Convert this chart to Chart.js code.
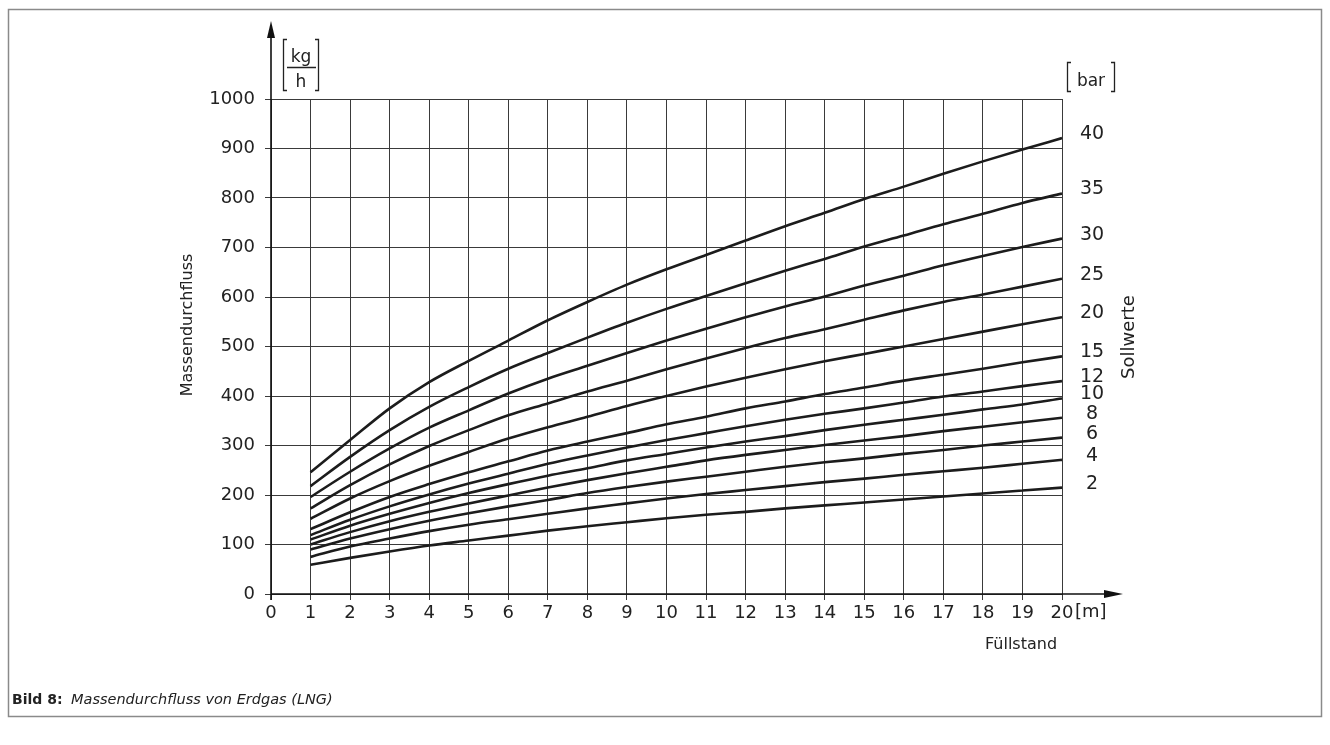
<!DOCTYPE html>
<html>
<head>
<meta charset="utf-8">
<title>Massendurchfluss von Erdgas (LNG)</title>
<script src="https://cdn.jsdelivr.net/npm/chart.js@4"></script>
<style>
  html, body { margin: 0; padding: 0; background: #fff; }
  canvas { display: block; }
</style>
</head>
<body>
<canvas id="chart" width="1330" height="745"></canvas>
<script>
// Füllstand in m (x axis)
const fuellstand = [1, 2, 3, 4, 5, 6, 7, 8, 9, 10, 11, 12, 13, 14, 15, 16, 17, 18, 19, 20];

// Sollwerte in bar, one curve each
const sollwerte = [40, 35, 30, 25, 20, 15, 12, 10, 8, 6, 4, 2];

// Massendurchfluss in kg/h per Sollwert
const bar40 = [246, 311, 375, 428, 471, 512, 553, 590, 625, 656, 685, 714, 743, 770, 798, 823, 849, 874, 898, 921];
const bar35 = [218, 277, 331, 378, 418, 455, 487, 518, 548, 576, 602, 628, 653, 677, 702, 724, 747, 768, 790, 809];
const bar30 = [196, 247, 294, 336, 371, 405, 435, 461, 487, 512, 536, 559, 581, 601, 623, 643, 664, 683, 701, 718];
const bar25 = [173, 220, 262, 299, 331, 361, 385, 409, 431, 454, 476, 497, 517, 535, 554, 573, 590, 605, 621, 637];
const bar20 = [152, 193, 228, 259, 287, 314, 337, 358, 380, 400, 419, 437, 454, 470, 485, 500, 515, 530, 545, 559];
const bar15 = [131, 165, 196, 222, 246, 268, 290, 308, 325, 343, 358, 375, 389, 404, 417, 431, 443, 455, 468, 480];
const bar12 = [119, 150, 177, 201, 223, 243, 263, 280, 296, 311, 325, 339, 352, 364, 375, 387, 399, 409, 420, 430];
const bar10 = [110, 138, 162, 184, 204, 222, 239, 254, 270, 283, 296, 308, 319, 331, 342, 352, 362, 373, 383, 395];
const bar8  = [100, 125, 147, 166, 183, 199, 215, 230, 244, 257, 270, 281, 291, 301, 310, 319, 329, 338, 347, 356];
const bar6  = [90, 112, 131, 148, 163, 177, 190, 204, 216, 227, 237, 247, 257, 266, 274, 283, 291, 300, 308, 316];
const bar4  = [75, 96, 112, 127, 140, 151, 162, 173, 183, 193, 202, 210, 218, 226, 233, 241, 248, 255, 263, 271];
const bar2  = [59, 73, 86, 98, 108, 118, 128, 137, 145, 153, 160, 166, 173, 179, 185, 191, 197, 203, 209, 215];

const kurven = [bar40, bar35, bar30, bar25, bar20, bar15, bar12, bar10, bar8, bar6, bar4, bar2];

const FONT = '"DejaVu Sans", "Liberation Sans", sans-serif';
const INK = '#1c1c1c';
const TEXT = '#222';

const datasets = sollwerte.map((p, i) => ({
  label: p + ' bar',
  data: fuellstand.map((x, j) => ({ x: x, y: kurven[i][j] })),
  borderColor: INK,
  borderWidth: 2.6,
  pointRadius: 0,
  fill: false,
  cubicInterpolationMode: 'monotone'
}));

// Axis arrows, unit brackets, curve labels, captions and frame
const decorations = {
  id: 'decorations',
  afterDraw(chart) {
    const ctx = chart.ctx;
    const xs = chart.scales.x, ys = chart.scales.y;
    const x0 = xs.getPixelForValue(0);
    const y0 = ys.getPixelForValue(0);
    ctx.save();

    // frame
    ctx.strokeStyle = '#8a8a8a';
    ctx.lineWidth = 1.5;
    ctx.strokeRect(8.5, 9.5, 1313, 707);

    // axes with arrowheads
    ctx.strokeStyle = '#111';
    ctx.fillStyle = '#111';
    ctx.lineWidth = 1.6;
    ctx.beginPath();
    ctx.moveTo(x0, y0 + 6);
    ctx.lineTo(x0, 34);
    ctx.moveTo(x0, y0);
    ctx.lineTo(1108, y0);
    ctx.stroke();
    ctx.beginPath();
    ctx.moveTo(x0, 21);
    ctx.lineTo(x0 - 4, 38);
    ctx.lineTo(x0 + 4, 38);
    ctx.closePath();
    ctx.fill();
    ctx.beginPath();
    ctx.moveTo(1123, y0);
    ctx.lineTo(1104, y0 - 4);
    ctx.lineTo(1104, y0 + 4);
    ctx.closePath();
    ctx.fill();

    // unit [kg/h]
    ctx.lineWidth = 1.3;
    ctx.strokeStyle = '#222';
    ctx.beginPath();
    ctx.moveTo(287, 39.5); ctx.lineTo(283.5, 39.5); ctx.lineTo(283.5, 90.5); ctx.lineTo(287, 90.5);
    ctx.moveTo(315, 39.5); ctx.lineTo(318.5, 39.5); ctx.lineTo(318.5, 90.5); ctx.lineTo(315, 90.5);
    ctx.moveTo(287, 67.5); ctx.lineTo(316, 67.5);
    ctx.stroke();
    ctx.fillStyle = TEXT;
    ctx.font = '17px ' + FONT;
    ctx.textAlign = 'center';
    ctx.textBaseline = 'alphabetic';
    ctx.fillText('kg', 301, 62);
    ctx.fillText('h', 301, 87);

    // unit [bar]
    ctx.beginPath();
    ctx.moveTo(1071, 62.5); ctx.lineTo(1067.5, 62.5); ctx.lineTo(1067.5, 91.5); ctx.lineTo(1071, 91.5);
    ctx.moveTo(1111, 62.5); ctx.lineTo(1114.5, 62.5); ctx.lineTo(1114.5, 91.5); ctx.lineTo(1111, 91.5);
    ctx.stroke();
    ctx.fillText('bar', 1091, 86);

    // Sollwert labels at the curve ends
    ctx.font = '19px ' + FONT;
    ctx.textBaseline = 'middle';
    sollwerte.forEach((p, i) => {
      const last = kurven[i][kurven[i].length - 1];
      ctx.fillText(String(p), 1092, ys.getPixelForValue(last) - 4);
    });

    // x unit and title
    ctx.font = '18px ' + FONT;
    ctx.textAlign = 'left';
    ctx.fillText('[m]', 1075, 612);
    ctx.font = '16px ' + FONT;
    ctx.textAlign = 'center';
    ctx.fillText('Füllstand', 1021, 645);

    // rotated titles
    ctx.save();
    ctx.translate(188, 325);
    ctx.rotate(-Math.PI / 2);
    ctx.fillText('Massendurchfluss', 0, 0);
    ctx.restore();
    ctx.save();
    ctx.translate(1129, 337);
    ctx.rotate(-Math.PI / 2);
    ctx.font = '18px ' + FONT;
    ctx.fillText('Sollwerte', 0, 0);
    ctx.restore();

    // caption
    ctx.textAlign = 'left';
    ctx.font = 'bold 14px ' + FONT;
    ctx.fillText('Bild 8:', 12, 700);
    ctx.font = 'italic 14.5px ' + FONT;
    ctx.fillText('Massendurchfluss von Erdgas (LNG)', 71, 700);

    ctx.restore();
  }
};

new Chart(document.getElementById('chart'), {
  type: 'line',
  data: { datasets: datasets },
  options: {
    responsive: false,
    animation: false,
    layout: { padding: { left: 0, right: 268, top: 99, bottom: 0 } },
    plugins: { legend: { display: false }, tooltip: { enabled: false } },
    scales: {
      x: {
        type: 'linear', min: 0, max: 20,
        ticks: { stepSize: 1, autoSkip: false, maxRotation: 0, padding: 3, color: TEXT,
                 font: { family: FONT, size: 18 }, callback: (v) => String(v) },
        grid: { color: '#3a3a3a', lineWidth: 1, tickLength: 6 },
        border: { display: false },
        afterFit(scale) { scale.height = 151; }
      },
      y: {
        type: 'linear', min: 0, max: 1000,
        ticks: { stepSize: 100, padding: 10, color: TEXT,
                 font: { family: FONT, size: 18 }, callback: (v) => String(v) },
        grid: { color: '#3a3a3a', lineWidth: 1, tickLength: 6 },
        border: { display: false },
        afterFit(scale) { scale.width = 271; }
      }
    }
  },
  plugins: [decorations]
});
</script>
</body>
</html>
